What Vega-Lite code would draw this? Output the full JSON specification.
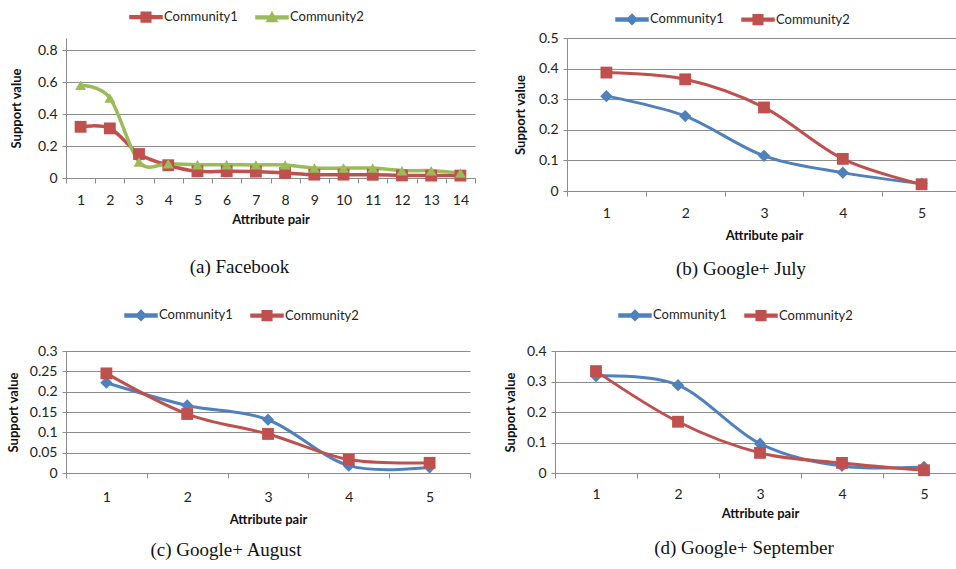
{
  "$schema": "https://vega.github.io/schema/vega-lite/v6.json",
  "background": "white",
  "padding": {"left": 7, "top": 0, "right": 0, "bottom": 0},
  "config": {
    "view": {"stroke": null},
    "font": "Lato",
    "axis": {"labelFont": "Lato", "labelFontSize": 14, "labelColor": "#222222", "titleFont": "Lato", "titleFontSize": 13, "titleFontWeight": "bold", "titleColor": "#111111", "domainColor": "#8c8c8c", "tickColor": "#8c8c8c", "gridColor": "#8c8c8c", "gridWidth": 1},
    "axisX": {"tickBand": "extent", "grid": false, "labelAngle": 0, "tickSize": 5},
    "axisY": {"grid": true, "tickSize": 4, "labelPadding": 5, "minExtent": 30, "maxExtent": 30},
    "legend": {"orient": "none", "direction": "horizontal", "title": null, "labelFont": "Lato", "labelFontSize": 13, "labelColor": "#222222", "symbolSize": 1024, "labelOffset": 1, "columnPadding": 15, "padding": 0},
    "title": {"font": "Liberation Serif", "fontSize": 19, "fontWeight": "normal", "color": "#111111", "orient": "bottom", "anchor": "middle"}
  },
  "datasets": {
    "fb": [
      {"pair": 1, "series": "Community1", "value": 0.32}, {"pair": 2, "series": "Community1", "value": 0.31},
      {"pair": 3, "series": "Community1", "value": 0.15}, {"pair": 4, "series": "Community1", "value": 0.08},
      {"pair": 5, "series": "Community1", "value": 0.042}, {"pair": 6, "series": "Community1", "value": 0.042},
      {"pair": 7, "series": "Community1", "value": 0.04}, {"pair": 8, "series": "Community1", "value": 0.031},
      {"pair": 9, "series": "Community1", "value": 0.021}, {"pair": 10, "series": "Community1", "value": 0.021},
      {"pair": 11, "series": "Community1", "value": 0.02}, {"pair": 12, "series": "Community1", "value": 0.016},
      {"pair": 13, "series": "Community1", "value": 0.015}, {"pair": 14, "series": "Community1", "value": 0.015},
      {"pair": 1, "series": "Community2", "value": 0.58}, {"pair": 2, "series": "Community2", "value": 0.5},
      {"pair": 3, "series": "Community2", "value": 0.1}, {"pair": 4, "series": "Community2", "value": 0.089},
      {"pair": 5, "series": "Community2", "value": 0.083}, {"pair": 6, "series": "Community2", "value": 0.083},
      {"pair": 7, "series": "Community2", "value": 0.082}, {"pair": 8, "series": "Community2", "value": 0.082},
      {"pair": 9, "series": "Community2", "value": 0.062}, {"pair": 10, "series": "Community2", "value": 0.062},
      {"pair": 11, "series": "Community2", "value": 0.062}, {"pair": 12, "series": "Community2", "value": 0.046},
      {"pair": 13, "series": "Community2", "value": 0.046}, {"pair": 14, "series": "Community2", "value": 0.031}
    ],
    "jul": [
      {"pair": 1, "series": "Community1", "value": 0.31}, {"pair": 2, "series": "Community1", "value": 0.245},
      {"pair": 3, "series": "Community1", "value": 0.115}, {"pair": 4, "series": "Community1", "value": 0.06},
      {"pair": 5, "series": "Community1", "value": 0.024},
      {"pair": 1, "series": "Community2", "value": 0.387}, {"pair": 2, "series": "Community2", "value": 0.365},
      {"pair": 3, "series": "Community2", "value": 0.273}, {"pair": 4, "series": "Community2", "value": 0.105},
      {"pair": 5, "series": "Community2", "value": 0.022}
    ],
    "aug": [
      {"pair": 1, "series": "Community1", "value": 0.222}, {"pair": 2, "series": "Community1", "value": 0.166},
      {"pair": 3, "series": "Community1", "value": 0.131}, {"pair": 4, "series": "Community1", "value": 0.018},
      {"pair": 5, "series": "Community1", "value": 0.014},
      {"pair": 1, "series": "Community2", "value": 0.245}, {"pair": 2, "series": "Community2", "value": 0.145},
      {"pair": 3, "series": "Community2", "value": 0.096}, {"pair": 4, "series": "Community2", "value": 0.033},
      {"pair": 5, "series": "Community2", "value": 0.025}
    ],
    "sep": [
      {"pair": 1, "series": "Community1", "value": 0.318}, {"pair": 2, "series": "Community1", "value": 0.288},
      {"pair": 3, "series": "Community1", "value": 0.096}, {"pair": 4, "series": "Community1", "value": 0.023},
      {"pair": 5, "series": "Community1", "value": 0.02},
      {"pair": 1, "series": "Community2", "value": 0.334}, {"pair": 2, "series": "Community2", "value": 0.168},
      {"pair": 3, "series": "Community2", "value": 0.066}, {"pair": 4, "series": "Community2", "value": 0.033},
      {"pair": 5, "series": "Community2", "value": 0.009}
    ]
  },
  "spacing": 19,
  "resolve": {"scale": {"color": "independent"}, "legend": {"color": "independent"}},
  "vconcat": [
    {
      "spacing": 38,
      "resolve": {"scale": {"color": "independent"}, "legend": {"color": "independent"}},
      "hconcat": [
        {
          "width": 409, "height": 140,
          "data": {"name": "fb"},
          "title": {"text": "(a) Facebook", "dx": -31, "offset": 32},
          "encoding": {
            "x": {"field": "pair", "type": "ordinal", "scale": {"type": "band", "paddingInner": 0, "paddingOuter": 0}, "axis": {"title": "Attribute pair", "labelPadding": 10, "titlePadding": 6}},
            "y": {"field": "value", "type": "quantitative", "scale": {"domain": [0, 0.875], "nice": false}, "axis": {"title": "Support value", "titlePadding": 13, "values": [0, 0.2, 0.4, 0.6, 0.8], "format": "~g"}},
            "color": {"field": "series", "type": "nominal", "scale": {"domain": ["Community1", "Community2"], "range": ["#C0504D", "#9BBB59"]},
              "legend": {"legendX": 63, "legendY": -38, "encode": {"symbols": {"update": {
                "shape": {"signal": "datum.value === 'Community1' ? 'M-1,-0.09H1V0.09H-1Z M-0.3,-0.3H0.3V0.3H-0.3Z' : 'M-1,-0.09H1V0.09H-1Z M0,-0.32L0.32,0.26L-0.32,0.26Z'"},
                "fill": {"signal": "datum.value === 'Community1' ? '#C0504D' : '#9BBB59'"},
                "stroke": {"value": "transparent"}, "opacity": {"value": 1}, "size": {"value": 1024}}}}}}
          },
          "layer": [
            {"mark": {"type": "line", "interpolate": "cardinal", "strokeWidth": 3.5}},
            {"transform": [{"filter": "datum.series === 'Community1'"}], "mark": {"type": "point", "shape": "square", "filled": true, "opacity": 1, "size": 140}},
            {"transform": [{"filter": "datum.series === 'Community2'"}], "mark": {"type": "point", "shape": "triangle-up", "filled": true, "opacity": 1, "size": 120}}
          ]
        },
        {
          "width": 394, "height": 153,
          "data": {"name": "jul"},
          "title": {"text": "(b) Google+ July", "dx": -23, "offset": 18},
          "encoding": {
            "x": {"field": "pair", "type": "ordinal", "scale": {"type": "band", "paddingInner": 0, "paddingOuter": 0}, "axis": {"title": "Attribute pair", "labelPadding": 10, "titlePadding": 9}},
            "y": {"field": "value", "type": "quantitative", "scale": {"domain": [0, 0.5], "nice": false}, "axis": {"title": "Support value", "titlePadding": 10, "values": [0, 0.1, 0.2, 0.3, 0.4, 0.5], "format": "~g"}},
            "color": {"field": "series", "type": "nominal", "scale": {"domain": ["Community1", "Community2"], "range": ["#4F81BD", "#C0504D"]},
              "legend": {"legendX": 48, "legendY": -36, "encode": {"symbols": {"update": {
                "shape": {"signal": "datum.value === 'Community1' ? 'M-1,-0.09H1V0.09H-1Z M0,-0.32L0.32,0L0,0.32L-0.32,0Z' : 'M-1,-0.09H1V0.09H-1Z M-0.3,-0.3H0.3V0.3H-0.3Z'"},
                "fill": {"signal": "datum.value === 'Community1' ? '#4F81BD' : '#C0504D'"},
                "stroke": {"value": "transparent"}, "opacity": {"value": 1}, "size": {"value": 1024}}}}}}
          },
          "layer": [
            {"mark": {"type": "line", "interpolate": "cardinal", "strokeWidth": 3}},
            {"transform": [{"filter": "datum.series === 'Community1'"}], "mark": {"type": "point", "shape": "diamond", "filled": true, "opacity": 1, "size": 150}},
            {"transform": [{"filter": "datum.series === 'Community2'"}], "mark": {"type": "point", "shape": "square", "filled": true, "opacity": 1, "size": 140}}
          ]
        }
      ]
    },
    {
      "spacing": 33,
      "resolve": {"scale": {"color": "independent"}, "legend": {"color": "independent"}},
      "hconcat": [
        {
          "width": 404, "height": 122,
          "data": {"name": "aug"},
          "title": {"text": "(c) Google+ August", "dx": -42, "offset": 15},
          "encoding": {
            "x": {"field": "pair", "type": "ordinal", "scale": {"type": "band", "paddingInner": 0, "paddingOuter": 0}, "axis": {"title": "Attribute pair", "labelPadding": 12, "titlePadding": 9}},
            "y": {"field": "value", "type": "quantitative", "scale": {"domain": [0, 0.3], "nice": false}, "axis": {"title": "Support value", "titlePadding": 16, "values": [0, 0.05, 0.1, 0.15, 0.2, 0.25, 0.3], "format": "~g"}},
            "color": {"field": "series", "type": "nominal", "scale": {"domain": ["Community1", "Community2"], "range": ["#4F81BD", "#C0504D"]},
              "legend": {"legendX": 58, "legendY": -53, "encode": {"symbols": {"update": {
                "shape": {"signal": "datum.value === 'Community1' ? 'M-1,-0.09H1V0.09H-1Z M0,-0.32L0.32,0L0,0.32L-0.32,0Z' : 'M-1,-0.09H1V0.09H-1Z M-0.3,-0.3H0.3V0.3H-0.3Z'"},
                "fill": {"signal": "datum.value === 'Community1' ? '#4F81BD' : '#C0504D'"},
                "stroke": {"value": "transparent"}, "opacity": {"value": 1}, "size": {"value": 1024}}}}}}
          },
          "layer": [
            {"mark": {"type": "line", "interpolate": "cardinal", "strokeWidth": 3}},
            {"transform": [{"filter": "datum.series === 'Community1'"}], "mark": {"type": "point", "shape": "diamond", "filled": true, "opacity": 1, "size": 150}},
            {"transform": [{"filter": "datum.series === 'Community2'"}], "mark": {"type": "point", "shape": "square", "filled": true, "opacity": 1, "size": 140}}
          ]
        },
        {
          "width": 410, "height": 122,
          "data": {"name": "sep"},
          "title": {"text": "(d) Google+ September", "dx": -16, "offset": 19},
          "encoding": {
            "x": {"field": "pair", "type": "ordinal", "scale": {"type": "band", "paddingInner": 0, "paddingOuter": 0}, "axis": {"title": "Attribute pair", "labelPadding": 9, "titlePadding": 6}},
            "y": {"field": "value", "type": "quantitative", "scale": {"domain": [0, 0.4], "nice": false}, "axis": {"title": "Support value", "titlePadding": 8, "values": [0, 0.1, 0.2, 0.3, 0.4], "format": "~g"}},
            "color": {"field": "series", "type": "nominal", "scale": {"domain": ["Community1", "Community2"], "range": ["#4F81BD", "#C0504D"]},
              "legend": {"legendX": 63, "legendY": -53, "encode": {"symbols": {"update": {
                "shape": {"signal": "datum.value === 'Community1' ? 'M-1,-0.09H1V0.09H-1Z M0,-0.32L0.32,0L0,0.32L-0.32,0Z' : 'M-1,-0.09H1V0.09H-1Z M-0.3,-0.3H0.3V0.3H-0.3Z'"},
                "fill": {"signal": "datum.value === 'Community1' ? '#4F81BD' : '#C0504D'"},
                "stroke": {"value": "transparent"}, "opacity": {"value": 1}, "size": {"value": 1024}}}}}}
          },
          "layer": [
            {"mark": {"type": "line", "interpolate": "cardinal", "strokeWidth": 3}},
            {"transform": [{"filter": "datum.series === 'Community1'"}], "mark": {"type": "point", "shape": "diamond", "filled": true, "opacity": 1, "size": 150}},
            {"transform": [{"filter": "datum.series === 'Community2'"}], "mark": {"type": "point", "shape": "square", "filled": true, "opacity": 1, "size": 140}}
          ]
        }
      ]
    }
  ]
}
